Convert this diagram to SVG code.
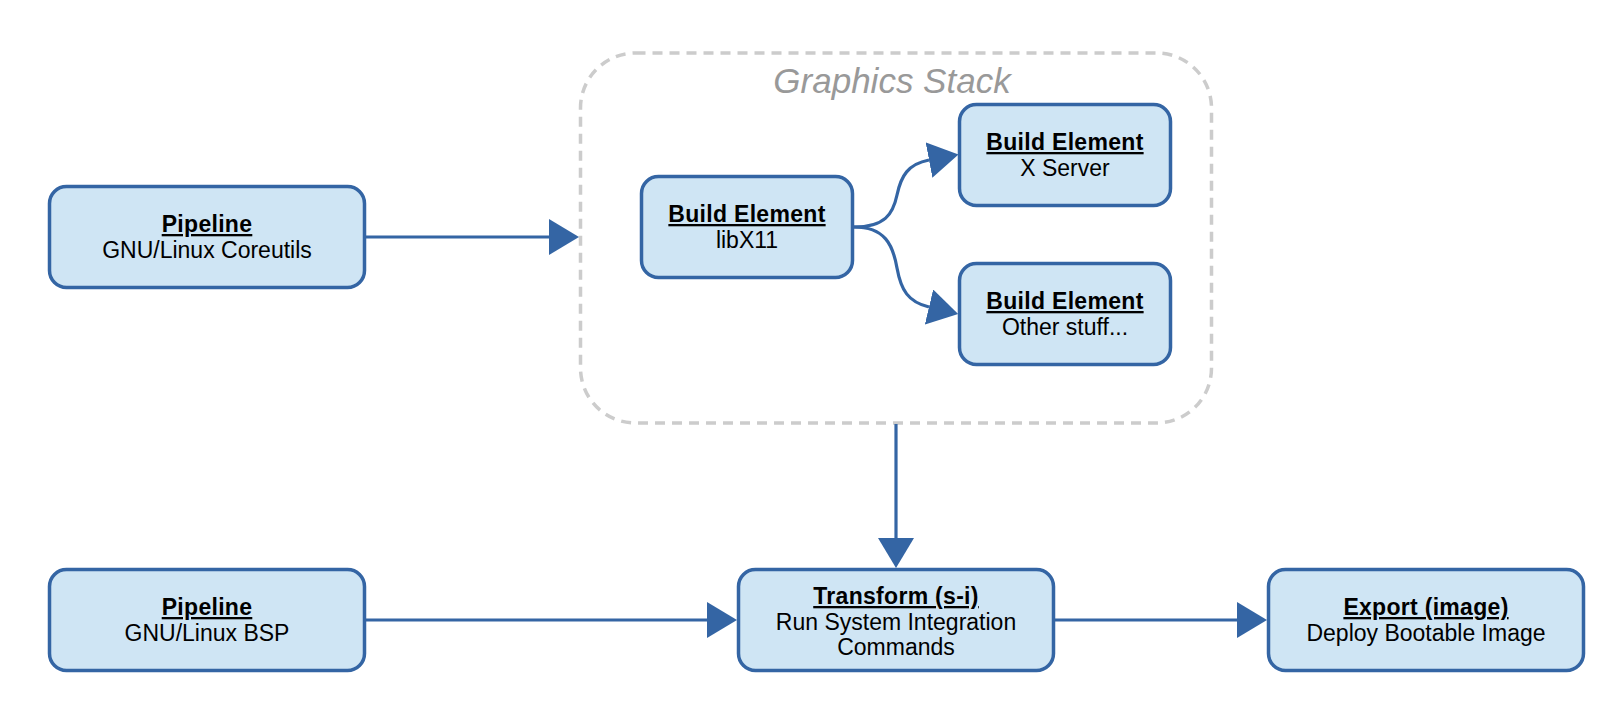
<svg xmlns="http://www.w3.org/2000/svg" width="1624" height="724" viewBox="0 0 1624 724">
<style>
.node rect{fill:#cfe5f4;stroke:#3465a4;stroke-width:3.5}
.node text{font-family:"Liberation Sans",Arial,sans-serif;font-size:23px;fill:#000;text-anchor:middle}
.node .t{font-weight:bold;text-decoration:underline;letter-spacing:0.3px}
.edge{fill:none;stroke:#3465a4;stroke-width:3.2}
.cluster rect{fill:none;stroke:#cccccc;stroke-width:3.5;stroke-dasharray:10 7}
.cluster text{font-family:"Liberation Sans",Arial,sans-serif;font-size:35px;font-style:italic;fill:#999999;text-anchor:middle}
</style>
<defs>
<marker id="arr" viewBox="0 0 30 36" refX="0" refY="18" markerWidth="30" markerHeight="36" markerUnits="userSpaceOnUse" orient="auto">
<polygon points="0,0 30,18 0,36" fill="#3465a4"/>
</marker>
</defs>
<rect width="1624" height="724" fill="#ffffff"/>
<g id="cluster_graphics" class="cluster">
<rect x="580.5" y="53" width="631" height="370" rx="55" ry="55"/>
<text x="892" y="93">Graphics Stack</text>
</g>
<g id="connectors">
<path class="edge" d="M366,237 L549,237" marker-end="url(#arr)"/>
<path class="edge" d="M896,424 L896,538" marker-end="url(#arr)"/>
<path class="edge" d="M366,620 L707,620" marker-end="url(#arr)"/>
<path class="edge" d="M1055,620 L1237,620" marker-end="url(#arr)"/>
<path class="edge" d="M854,227 C885,227 893,214 897,195 C901,176 908,164 929,160" marker-end="url(#arr)"/>
<path class="edge" d="M854,227 C885,227 893,245 897,268 C901,290 908,302 929,307" marker-end="url(#arr)"/>
</g>
<g id="pipeline_coreutils" class="node">
<rect x="49.5" y="186.5" width="315" height="101" rx="17" ry="17"/>
<text class="t" x="207" y="232">Pipeline</text>
<text x="207" y="258">GNU/Linux Coreutils</text>
</g>
<g id="pipeline_bsp" class="node">
<rect x="49.5" y="569.5" width="315" height="101" rx="17" ry="17"/>
<text class="t" x="207" y="615">Pipeline</text>
<text x="207" y="641">GNU/Linux BSP</text>
</g>
<g id="libx11" class="node">
<rect x="641.5" y="176.5" width="211" height="101" rx="17" ry="17"/>
<text class="t" x="747" y="222">Build Element</text>
<text x="747" y="248">libX11</text>
</g>
<g id="xserver" class="node">
<rect x="959.5" y="104.5" width="211" height="101" rx="17" ry="17"/>
<text class="t" x="1065" y="150">Build Element</text>
<text x="1065" y="176">X Server</text>
</g>
<g id="otherstuff" class="node">
<rect x="959.5" y="263.5" width="211" height="101" rx="17" ry="17"/>
<text class="t" x="1065" y="309">Build Element</text>
<text x="1065" y="335">Other stuff...</text>
</g>
<g id="transform" class="node">
<rect x="738.5" y="569.5" width="315" height="101" rx="17" ry="17"/>
<text class="t" x="896" y="604">Transform (s-i)</text>
<text x="896" y="630">Run System Integration</text>
<text x="896" y="655">Commands</text>
</g>
<g id="export" class="node">
<rect x="1268.5" y="569.5" width="315" height="101" rx="17" ry="17"/>
<text class="t" x="1426" y="615">Export (image)</text>
<text x="1426" y="641">Deploy Bootable Image</text>
</g>
</svg>
